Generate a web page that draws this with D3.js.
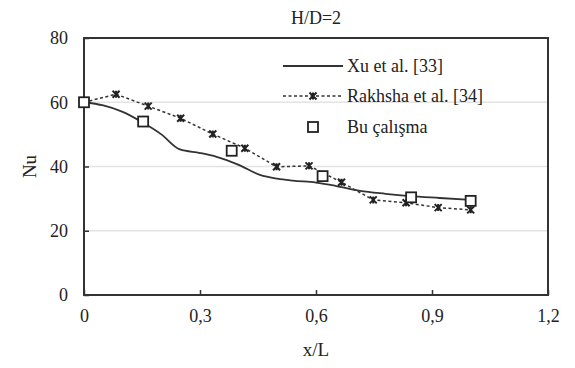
<!DOCTYPE html>
<html>
<head>
<meta charset="utf-8">
<script src="https://cdn.jsdelivr.net/npm/d3@7"></script>
<style>
  body { margin: 0; background: #fff; }
  svg text { font-family: "Liberation Serif", Tinos, "DejaVu Serif", "Noto Serif", "Times New Roman", Times, serif !important; fill: #222; }
</style>
</head>
<body>
<svg id="chart" width="575" height="368"></svg>
<script>
// Xu et al. [33] - solid line
var xuX = [0, 0.05, 0.1, 0.153, 0.2, 0.248, 0.3, 0.343, 0.4, 0.455, 0.5, 0.54, 0.6, 0.65, 0.714, 0.78, 0.843, 0.92, 1.0];
var xuY = [60, 59, 57, 53.6, 50, 45.3, 44.2, 43, 40.5, 37.4, 36.2, 35.6, 35, 34, 32.4, 31.5, 30.8, 30.2, 29.6];

// Rakhsha et al. [34] - dashed with star markers
var rakX = [0, 0.083, 0.166, 0.25, 0.333, 0.416, 0.498, 0.582, 0.666, 0.748, 0.833, 0.916, 1.0];
var rakY = [60, 62.5, 58.8, 55, 50.1, 45.7, 39.9, 40.2, 35.1, 29.6, 28.7, 27.2, 26.5];

// Bu çalışma - squares
var buX = [0, 0.153, 0.382, 0.617, 0.846, 1.0];
var buY = [60, 54, 44.9, 37, 30.4, 29.3];

var xTicks = [0, 0.3, 0.6, 0.9, 1.2];
var yTicks = [0, 20, 40, 60, 80];
var legendNames = ["Xu et al. [33]", "Rakhsha et al. [34]", "Bu çalışma"];

var serif = "'Liberation Serif', Tinos, 'DejaVu Serif', 'Noto Serif', serif";

var svg = d3.select("#chart");
var margin = {left: 84, right: 27, top: 38, bottom: 73};
var width = 575 - margin.left - margin.right;
var height = 368 - margin.top - margin.bottom;

var x = d3.scaleLinear().domain([0, 1.2]).range([0, width]);
var y = d3.scaleLinear().domain([0, 80]).range([height, 0]);

var g = svg.append("g").attr("transform", "translate(" + margin.left + "," + margin.top + ")");

// gridlines
g.selectAll(".grid")
    .data(yTicks.filter(function(d) { return d > 0 && d < 80; }))
    .enter().append("line")
    .attr("x1", 0).attr("x2", width)
    .attr("y1", function(d) { return y(d); })
    .attr("y2", function(d) { return y(d); })
    .attr("stroke", "#e3e3e3")
    .attr("stroke-width", 1.5);

var fmt = function(d) { return d === 0 ? "0" : d3.format(".1f")(d).replace(".", ","); };

// x axis
var xAxis = g.append("g")
    .attr("transform", "translate(0," + height + ")")
    .call(d3.axisBottom(x).tickValues(xTicks).tickFormat(fmt).tickSizeInner(-5).tickSizeOuter(0).tickPadding(14));
xAxis.attr("font-family", serif);
xAxis.select(".domain").remove();
xAxis.selectAll("line").attr("stroke", "#333").attr("stroke-width", 1.5);
xAxis.selectAll("text").style("font-size", "18px").attr("fill", "#222");

// y axis
var yAxis = g.append("g")
    .call(d3.axisLeft(y).tickValues(yTicks).tickSizeInner(-5).tickSizeOuter(0).tickPadding(16));
yAxis.attr("font-family", serif);
yAxis.select(".domain").remove();
yAxis.selectAll("line").attr("stroke", "#333").attr("stroke-width", 1.5);
yAxis.selectAll("text").style("font-size", "18px").attr("fill", "#222");

// frame
g.append("rect")
    .attr("x", 0).attr("y", 0)
    .attr("width", width).attr("height", height)
    .attr("fill", "none")
    .attr("stroke", "#333")
    .attr("stroke-width", 2);

var line = d3.line()
    .x(function(d) { return x(d[0]); })
    .y(function(d) { return y(d[1]); });

var xuData = d3.zip(xuX, xuY);
var rakData = d3.zip(rakX, rakY);
var buData = d3.zip(buX, buY);

g.append("path")
    .datum(xuData)
    .attr("d", line.curve(d3.curveMonotoneX))
    .attr("fill", "none")
    .attr("stroke", "#333")
    .attr("stroke-width", 1.8);

g.append("path")
    .datum(rakData)
    .attr("d", line.curve(d3.curveLinear))
    .attr("fill", "none")
    .attr("stroke", "#333")
    .attr("stroke-width", 1.5)
    .attr("stroke-dasharray", "3,2.5");

function starPath(r) {
    var p = d3.path();
    p.moveTo(-r, -r); p.lineTo(r, r);
    p.moveTo(-r, r); p.lineTo(r, -r);
    p.moveTo(0, -r); p.lineTo(0, r);
    return p.toString();
}

g.selectAll(".star")
    .data(rakData)
    .enter().append("path")
    .attr("transform", function(d) { return "translate(" + x(d[0]) + "," + y(d[1]) + ")"; })
    .attr("d", starPath(3.5))
    .attr("fill", "none")
    .attr("stroke", "#222")
    .attr("stroke-width", 2);

g.selectAll(".sq")
    .data(buData)
    .enter().append("rect")
    .attr("x", function(d) { return x(d[0]) - 5; })
    .attr("y", function(d) { return y(d[1]) - 5; })
    .attr("width", 10).attr("height", 10)
    .attr("fill", "#fff")
    .attr("stroke", "#222")
    .attr("stroke-width", 1.8);

// legend
var leg = svg.append("g").attr("transform", "translate(283,0)");
var rows = [66, 96, 127];

leg.append("line").attr("x1", 0).attr("x2", 60).attr("y1", rows[0]).attr("y2", rows[0])
    .attr("stroke", "#333").attr("stroke-width", 1.8);
leg.append("line").attr("x1", 0).attr("x2", 60).attr("y1", rows[1]).attr("y2", rows[1])
    .attr("stroke", "#333").attr("stroke-width", 1.5).attr("stroke-dasharray", "3,2.5");
leg.append("path").attr("transform", "translate(30," + rows[1] + ")")
    .attr("d", starPath(3.5)).attr("fill", "none").attr("stroke", "#222").attr("stroke-width", 2);
leg.append("rect").attr("x", 25).attr("y", rows[2] - 5).attr("width", 10).attr("height", 10)
    .attr("fill", "#fff").attr("stroke", "#222").attr("stroke-width", 1.8);

leg.selectAll(".lt")
    .data(legendNames)
    .enter().append("text")
    .attr("x", 64)
    .attr("y", function(d, i) { return rows[i] + 6; })
    .attr("font-family", serif)
    .style("font-size", "18px")
    .text(function(d) { return d; });

// titles
svg.append("text")
    .attr("x", margin.left + width / 2)
    .attr("y", 24)
    .attr("text-anchor", "middle")
    .attr("font-family", serif)
    .style("font-size", "18px")
    .text("H/D=2");

svg.append("text")
    .attr("x", margin.left + width / 2)
    .attr("y", 356)
    .attr("text-anchor", "middle")
    .attr("font-family", serif)
    .style("font-size", "19px")
    .text("x/L");

svg.append("text")
    .attr("transform", "translate(36," + (margin.top + height / 2) + ") rotate(-90)")
    .attr("text-anchor", "middle")
    .attr("font-family", serif)
    .style("font-size", "19px")
    .text("Nu");
</script>
</body>
</html>
